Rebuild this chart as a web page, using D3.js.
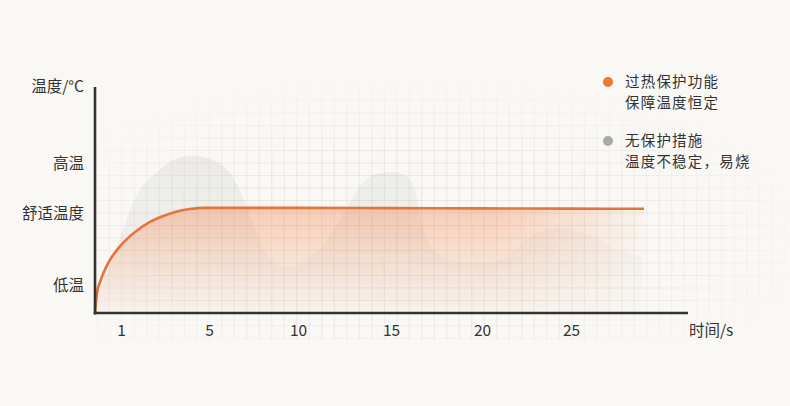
<!DOCTYPE html>
<html>
<head>
<meta charset="utf-8">
<script src="https://cdn.jsdelivr.net/npm/d3@7"></script>
<style>
  html, body { margin: 0; padding: 0; background: #f9f8f4; }
  svg { display: block; }
  text { font-family: "Noto Sans CJK SC", "Noto Sans", sans-serif; fill: #333; }
</style>
</head>
<body>
<svg id="chart" width="790" height="406"></svg>
<script>
// ---- data ----
const xTicks = [1, 5, 10, 15, 20, 25];
const xTickLabels = ["1", "5", "10", "15", "20", "25"];
const yTickValues = [12, 44, 66];
const yTickLabels = ["低温", "舒适温度", "高温"];
const yAxisTitle = "温度/°C";
const xAxisTitle = "时间/s";

// with overheat protection (orange)
const protectedTime = [0, 0.077, 0.192, 0.385, 0.577, 0.885, 1.182, 1.727, 2.318, 2.864, 3.455, 4.136, 4.818, 6, 10, 15, 20, 25, 29.1];
const protectedTemp = [0, 8.85, 13.7, 19.3, 23.5, 28.5, 31.9, 36.5, 40.3, 42.7, 44.7, 46.0, 46.5, 46.5, 46.5, 46.4, 46.3, 46.2, 46.1];

// without protection (grey)
const unprotectedTime = [0, 0.96, 1.86, 2.64, 3.36, 4.23, 5.22, 6.18, 6.91, 7.47, 8.03, 8.71, 9.38, 10.48, 11.56, 12.63, 13.49, 14.41, 15.11, 15.88, 16.32, 16.59, 16.87, 17.31, 18.08, 19.18, 20.28, 21.4, 22.3, 23.26, 24.38, 25.51, 26.46, 27.36, 28.99];
const unprotectedTemp = [0, 33.6, 54.4, 62.4, 67.7, 69.5, 67.7, 61.9, 51.3, 39.8, 29.2, 22.1, 20.4, 23.5, 32.3, 46.9, 57.5, 61.9, 62.4, 60.2, 54.4, 44.2, 35.4, 27.9, 24.3, 22.1, 22.1, 24.8, 31.0, 35.8, 37.6, 35.8, 33.2, 29.2, 24.8];

const legendLines = [
  ["过热保护功能", "保障温度恒定"],
  ["无保护措施", "温度不稳定，易烧"]
];
const legendColors = ["#f07636", "#a9a9a9"];

// ---- layout ----
const svg = d3.select("#chart");
const x0 = 95, xEnd = 688, yTop = 87, yBottom = 313;
const fontStack = '"Noto Sans CJK SC", "Noto Sans", sans-serif';

const x = d3.scaleLinear()
  .domain([0, 1, 5, 10, 15, 20, 25, 30])
  .range([95, 121, 209, 298, 391, 482, 571, 660]);
const y = d3.scaleLinear().domain([0, 100]).range([yBottom, yTop]);

const defs = svg.append("defs");

// gradients
const og = defs.append("linearGradient").attr("id", "orangeFill")
  .attr("gradientUnits", "userSpaceOnUse").attr("x1", 0).attr("x2", 0)
  .attr("y1", y(46.5)).attr("y2", yBottom);
og.append("stop").attr("offset", 0).attr("stop-color", "rgb(248,150,100)").attr("stop-opacity", 0.45);
og.append("stop").attr("offset", 0.45).attr("stop-color", "rgb(248,150,100)").attr("stop-opacity", 0.24);
og.append("stop").attr("offset", 1).attr("stop-color", "rgb(248,150,100)").attr("stop-opacity", 0.03);

const gg = defs.append("linearGradient").attr("id", "greyFill")
  .attr("gradientUnits", "userSpaceOnUse").attr("x1", 0).attr("x2", 0)
  .attr("y1", y(70)).attr("y2", yBottom);
gg.append("stop").attr("offset", 0).attr("stop-color", "rgb(205,205,205)").attr("stop-opacity", 0.32);
gg.append("stop").attr("offset", 0.6).attr("stop-color", "rgb(210,210,210)").attr("stop-opacity", 0.2);
gg.append("stop").attr("offset", 1).attr("stop-color", "rgb(215,215,215)").attr("stop-opacity", 0.04);

// horizontal fade masks
function hMask(id, stops) {
  const lg = defs.append("linearGradient").attr("id", id + "G")
    .attr("gradientUnits", "userSpaceOnUse").attr("x1", 95).attr("x2", 650).attr("y1", 0).attr("y2", 0);
  stops.forEach(s => lg.append("stop").attr("offset", s[0]).attr("stop-color", "white").attr("stop-opacity", s[1]));
  defs.append("mask").attr("id", id).attr("maskUnits", "userSpaceOnUse")
    .attr("x", 0).attr("y", 0).attr("width", 790).attr("height", 406)
    .append("rect").attr("width", 790).attr("height", 406).attr("fill", `url(#${id}G)`);
}
hMask("orangeMask", [[0, 1], [0.72, 1], [0.9, 0.45], [1, 0.05]]);
hMask("greyMask", [[0, 1], [0.7, 0.95], [1, 0.45]]);

// grid mask
const rg = defs.append("radialGradient").attr("id", "gridG")
  .attr("cx", 0.45).attr("cy", 0.62).attr("r", 0.62);
rg.append("stop").attr("offset", 0).attr("stop-color", "white").attr("stop-opacity", 1);
rg.append("stop").attr("offset", 0.55).attr("stop-color", "white").attr("stop-opacity", 0.85);
rg.append("stop").attr("offset", 1).attr("stop-color", "white").attr("stop-opacity", 0);
defs.append("mask").attr("id", "gridMask").attr("maskUnits", "userSpaceOnUse")
  .attr("x", 0).attr("y", 0).attr("width", 790).attr("height", 406)
  .append("rect").attr("x", 95).attr("y", 70).attr("width", 690).attr("height", 275)
  .attr("fill", "url(#gridG)");

defs.append("filter").attr("id", "soft").append("feGaussianBlur").attr("stdDeviation", 0.6);

// ---- areas ----
const unprot = unprotectedTime.map((t, i) => [t, unprotectedTemp[i]]);
const prot = protectedTime.map((t, i) => [t, protectedTemp[i]]);

const area = d3.area().curve(d3.curveMonotoneX)
  .x(d => x(d[0])).y0(y(0)).y1(d => y(d[1]));
const line = d3.line().curve(d3.curveMonotoneX)
  .x(d => x(d[0])).y(d => y(d[1]));

svg.append("path").datum(unprot).attr("d", area)
  .attr("fill", "url(#greyFill)").attr("mask", "url(#greyMask)").attr("filter", "url(#soft)");
svg.append("path").datum(prot).attr("d", area)
  .attr("fill", "url(#orangeFill)").attr("mask", "url(#orangeMask)");

// ---- grid ----
const grid = svg.append("g").attr("mask", "url(#gridMask)");
const step = 12.5;
d3.range(x0 + 1.8, 785, step).forEach(gx => {
  grid.append("line").attr("x1", gx).attr("x2", gx).attr("y1", 80).attr("y2", 340)
    .attr("stroke", "rgba(150,130,110,0.14)").attr("stroke-width", 1);
});
d3.range(yBottom - step, 75, -step).forEach(gy => {
  grid.append("line").attr("x1", 95).attr("x2", 785).attr("y1", gy).attr("y2", gy)
    .attr("stroke", "rgba(150,130,110,0.14)").attr("stroke-width", 1);
});
d3.range(yBottom + step, 345, step).forEach(gy => {
  grid.append("line").attr("x1", 95).attr("x2", 785).attr("y1", gy).attr("y2", gy)
    .attr("stroke", "rgba(150,130,110,0.08)").attr("stroke-width", 1);
});

// ---- orange line ----
svg.append("path").datum(prot).attr("d", line)
  .attr("fill", "none").attr("stroke", "#e6733e").attr("stroke-width", 2.6);

// ---- axes ----
svg.append("line").attr("x1", x0).attr("x2", x0).attr("y1", yTop).attr("y2", yBottom + 1.5)
  .attr("stroke", "#333").attr("stroke-width", 2.6);
svg.append("line").attr("x1", x0 - 1.3).attr("x2", xEnd).attr("y1", yBottom).attr("y2", yBottom)
  .attr("stroke", "#333").attr("stroke-width", 2.6);

const xAxis = d3.axisBottom(x).tickValues(xTicks).tickFormat((d, i) => xTickLabels[i]).tickSize(0).tickPadding(10);
const gx = svg.append("g").attr("transform", `translate(0,${yBottom + 2})`).call(xAxis);
gx.select(".domain").remove();
gx.selectAll("text").style("font-size", "15.5px").style("fill", "#333").style("font-family", fontStack);

const yAxis = d3.axisLeft(y).tickValues(yTickValues).tickFormat((d, i) => yTickLabels[i]).tickSize(0).tickPadding(11);
const gy = svg.append("g").attr("transform", `translate(${x0},0)`).call(yAxis);
gy.select(".domain").remove();
gy.selectAll("text").style("font-size", "15.5px").style("fill", "#333").style("font-family", fontStack);

svg.append("text").attr("x", 84).attr("y", y(100)).attr("dy", "0.35em")
  .attr("text-anchor", "end").style("font-size", "15.5px").text(yAxisTitle);
svg.append("text").attr("x", 689).attr("y", yBottom + 18).attr("dy", "0.35em")
  .attr("text-anchor", "start").style("font-size", "15.5px").text(xAxisTitle);

// ---- legend ----
const legend = svg.append("g");
legendLines.forEach((lines, i) => {
  const gy0 = 82 + i * 59;
  legend.append("circle").attr("cx", 608).attr("cy", gy0).attr("r", 5).attr("fill", legendColors[i]);
  lines.forEach((t, j) => {
    legend.append("text").attr("x", 625).attr("y", gy0 + j * 21).attr("dy", "0.33em")
      .style("font-size", "14.5px").style("letter-spacing", "1.2px").text(t);
  });
});
</script>
</body>
</html>
